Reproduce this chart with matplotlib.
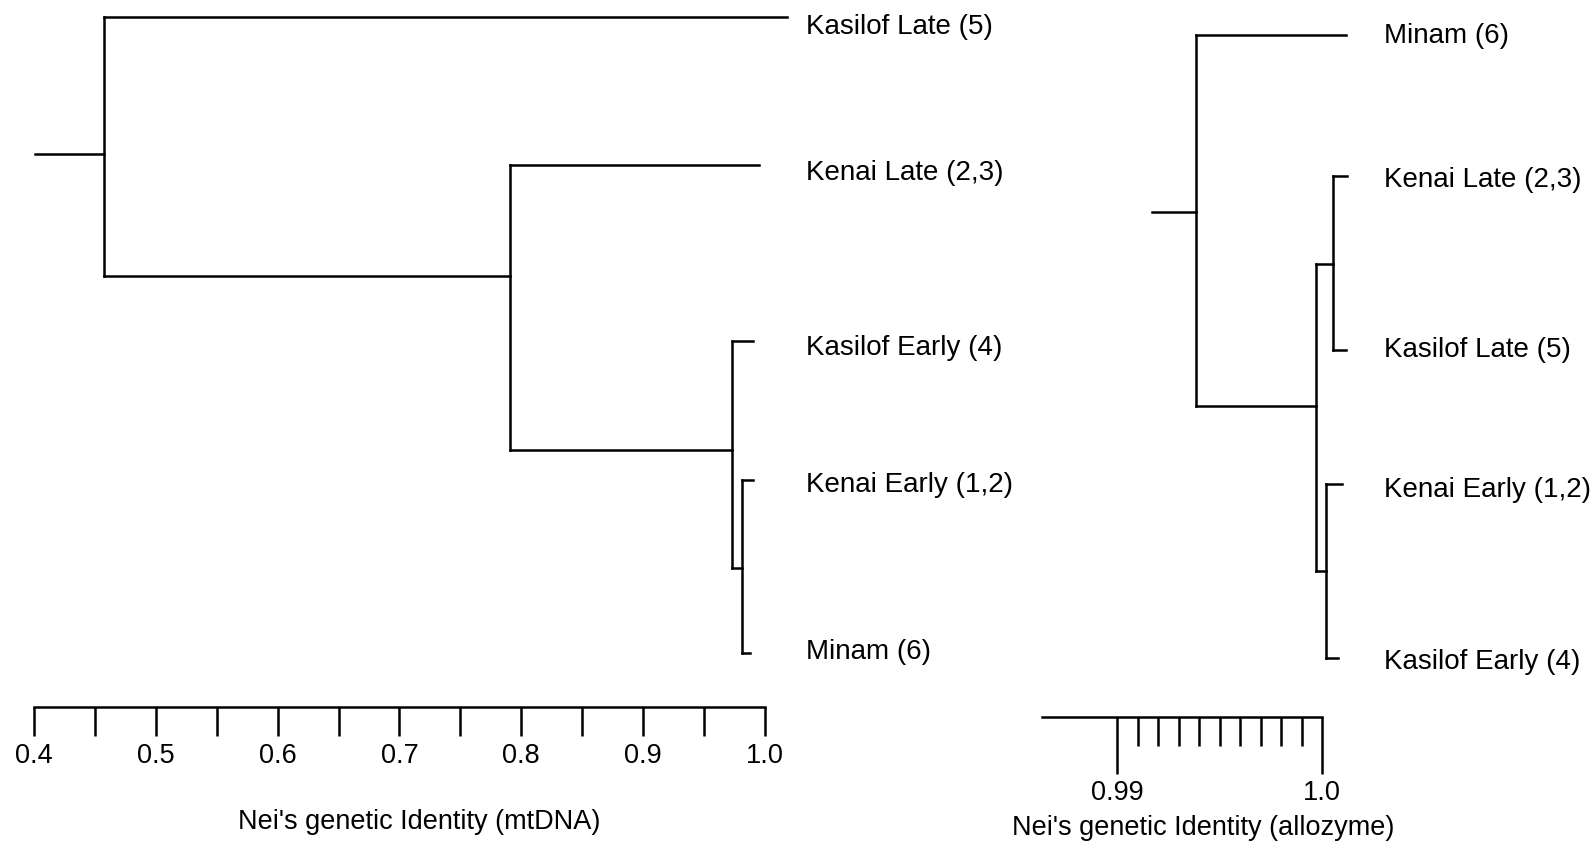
import matplotlib.pyplot as plt
from matplotlib.ticker import FixedLocator

plt.rcParams['font.family'] = ['Liberation Sans', 'DejaVu Sans']

# ---- mtDNA tree (left) ----
left_leaves = ["Kasilof Late (5)", "Kenai Late (2,3)", "Kasilof Early (4)",
               "Kenai Early (1,2)", "Minam (6)"]
# identity where each leaf branch ends (as drawn)
left_leaf_end = [1.018, 0.995, 0.990, 0.990, 0.988]
# cluster name: (identity of the join, children)  ints are leaves
left_nodes = {
    "D": (0.981, [3, 4]),
    "C": (0.973, [2, "D"]),
    "B": (0.791, [1, "C"]),
    "root": (0.4575, [0, "B"]),
}
left_root_start = 0.401
left_major = [0.4, 0.5, 0.6, 0.7, 0.8, 0.9, 1.0]
left_minor = [0.45, 0.55, 0.65, 0.75, 0.85, 0.95]
left_ticklabels = ["0.4", "0.5", "0.6", "0.7", "0.8", "0.9", "1.0"]

# ---- allozyme tree (right) ----
right_leaves = ["Minam (6)", "Kenai Late (2,3)", "Kasilof Late (5)",
                "Kenai Early (1,2)", "Kasilof Early (4)"]
right_leaf_end = [1.00117, 1.00122, 1.00117, 1.00098, 1.00078]
right_nodes = {
    "F": (1.00054, [1, 2]),
    "G": (1.00020, [3, 4]),
    "E": (0.99971, ["F", "G"]),
    "root": (0.99385, [0, "E"]),
}
right_root_start = 0.99171
right_major = [0.99, 1.0]
right_minor = [0.991, 0.992, 0.993, 0.994, 0.995, 0.996, 0.997, 0.998, 0.999]
right_ticklabels = ["0.99", "1.0"]

# layout (rows measured top-down, figure is 852 rows tall)
left_leaf_y = [17, 165, 341, 480, 653]
left_attach_y = {"D": 568, "C": 450, "B": 276, "root": 154}
left_label_y = [27, 173, 348, 485, 652]
right_leaf_y = [35, 176, 350, 484, 658]
right_attach_y = {"F": 264, "G": 571, "E": 406, "root": 212}
right_label_y = [36, 180, 350, 490, 662]

LW = 1.8
FS = 20


def draw_tree(ax, nodes, attach_y, leaf_y, leaf_end, root_start):
    def pos(child):
        if isinstance(child, int):
            return leaf_end[child], leaf_y[child]
        return nodes[child][0], attach_y[child]

    for name, (x, children) in nodes.items():
        ys = [pos(c)[1] for c in children]
        ax.plot([x, x], [min(ys), max(ys)], color='black', lw=LW,
                solid_capstyle='projecting')
        for c in children:
            cx, cy = pos(c)
            ax.plot([x, cx], [cy, cy], color='black', lw=LW,
                    solid_capstyle='projecting')
    rx = nodes["root"][0]
    ry = attach_y["root"]
    ax.plot([root_start, rx], [ry, ry], color='black', lw=LW)


def scale_bar(ax, y, lo, hi, major, minor, labels, major_len, minor_len, pad):
    for s in ['top', 'left', 'right']:
        ax.spines[s].set_visible(False)
    sp = ax.spines['bottom']
    sp.set_position(('data', y))
    sp.set_bounds(lo, hi)
    sp.set_linewidth(LW)
    ax.xaxis.set_major_locator(FixedLocator(major))
    ax.xaxis.set_minor_locator(FixedLocator(minor))
    ax.set_xticklabels(labels)
    ax.tick_params(axis='x', which='major', direction='out', length=major_len,
                   width=LW, labelsize=FS - 0.5, pad=pad)
    ax.tick_params(axis='x', which='minor', direction='out', length=minor_len,
                   width=LW)
    ax.set_yticks([])


fig = plt.figure(figsize=(15.92, 8.52), dpi=100)

# left panel: 0.4 sits at x=34 px, 0.1 per 121.8 px
axl = fig.add_axes([0, 0, 1000 / 1592, 1])
axl.set_xlim(0.4 - 34 / 1218, 0.4 + 966 / 1218)
axl.set_ylim(852, 0)
axl.patch.set_visible(False)
draw_tree(axl, left_nodes, left_attach_y, left_leaf_y, left_leaf_end, left_root_start)
for name, y in zip(left_leaves, left_label_y):
    axl.text(1.0338, y, name, fontsize=FS, va='center', ha='left')
scale_bar(axl, 707, 0.4, 1.0, left_major, left_minor,
          left_ticklabels, 21, 21, 5)
axl.annotate("Nei's genetic Identity (mtDNA)", xy=(0.7, 707), xytext=(14, -83),
             textcoords='offset points', ha='center', va='center',
             fontsize=FS - 0.5)

# right panel: 1.0 sits at x=1322 px, 0.01 per 205 px
axr = fig.add_axes([1000 / 1592, 0, 592 / 1592, 1])
axr.set_xlim(1 - 322 / 20500, 1 + 270 / 20500)
axr.set_ylim(852, 0)
axr.patch.set_visible(False)
draw_tree(axr, right_nodes, right_attach_y, right_leaf_y, right_leaf_end, right_root_start)
for name, y in zip(right_leaves, right_label_y):
    axr.text(1.00302, y, name, fontsize=FS, va='center', ha='left')
scale_bar(axr, 717, 0.98634, 1.0, right_major, right_minor,
          right_ticklabels, 41, 21, 4)
axr.annotate("Nei's genetic Identity (allozyme)", xy=(0.995, 717),
             xytext=(-12, -80), textcoords='offset points',
             ha='center', va='center', fontsize=FS - 0.5)

fig.savefig("out.png", dpi=100)
